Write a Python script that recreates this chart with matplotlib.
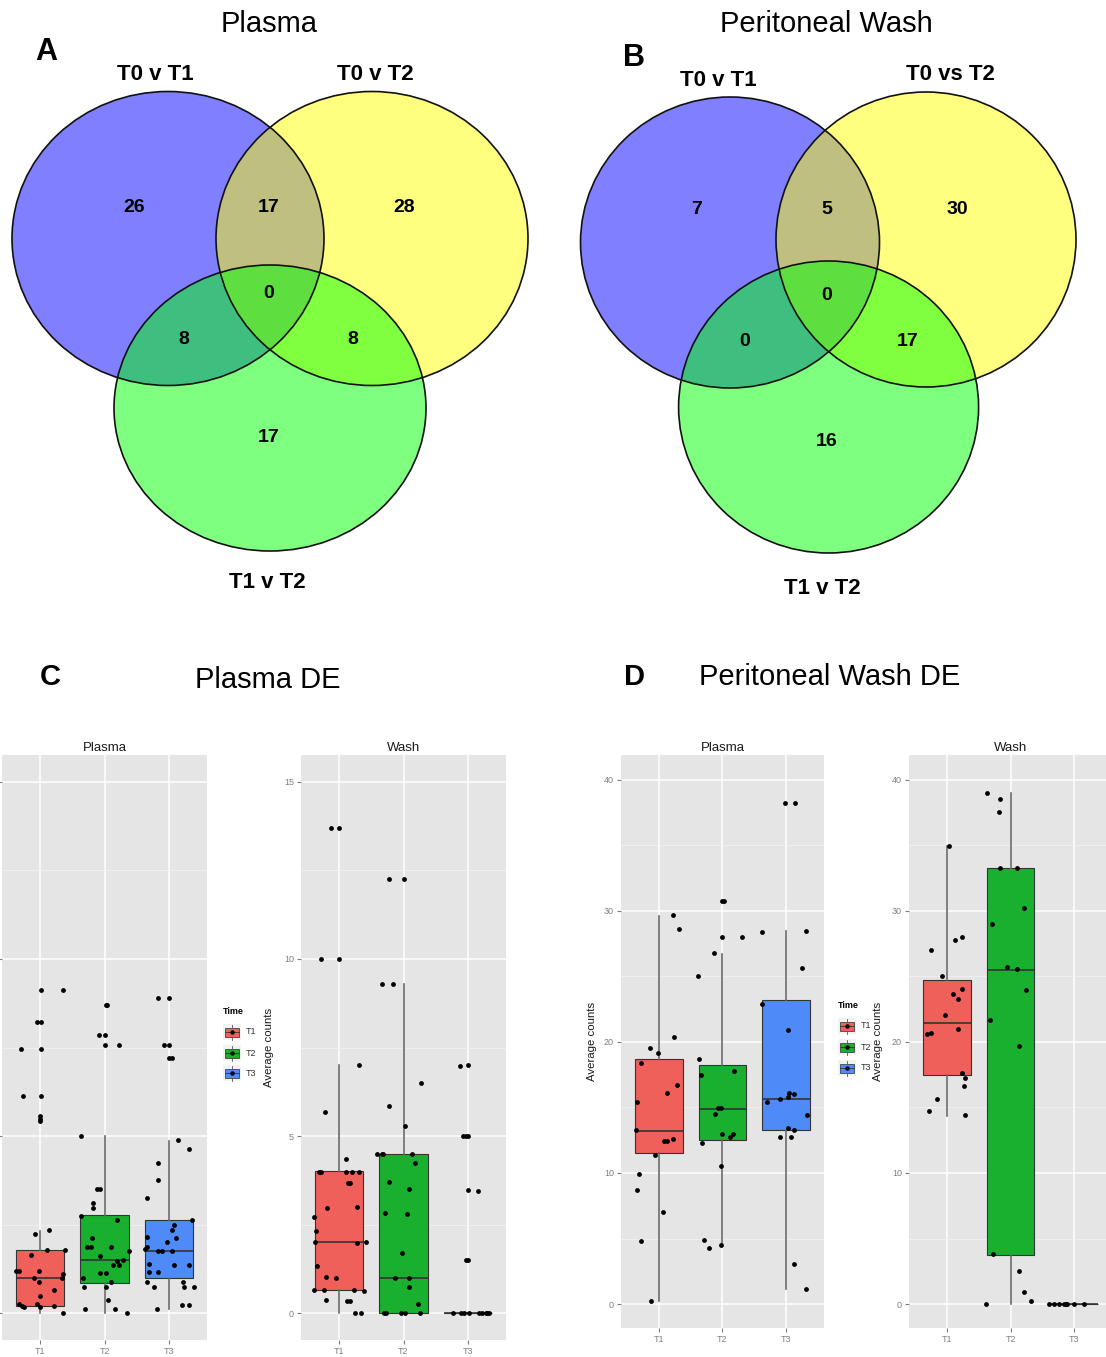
import matplotlib
matplotlib.use("Agg")
import matplotlib.pyplot as plt
from matplotlib.patches import Ellipse, Rectangle

plt.rcParams["font.family"] = ["Liberation Sans", "DejaVu Sans"]

W, H = 1106, 1357

# ---- Venn data ----
venn_a_sets = ["T0 v T1", "T0 v T2", "T1 v T2"]
venn_b_sets = ["T0 v T1", "T0 vs T2", "T1 v T2"]
# order: only1, 1&2, only2, all, 1&3, 2&3, only3
venn_a_counts = [26, 17, 28, 0, 8, 8, 17]
venn_b_counts = [7, 5, 30, 0, 0, 17, 16]

groups = ["T1", "T2", "T3"]
fills = ["#F0605B", "#19B02F", "#4E8BF8"]

# ---- C: Plasma DE, plasma facet ----
cp_y = [[9.11, 9.11, 8.23, 8.23, 7.45, 7.45, 6.12, 6.12, 5.56, 5.48, 5.42, 2.35, 2.22, 1.77, 1.65,
         1.77, 1.2, 1.2, 1.2, 0.98, 0.98, 1.11, 0.65, 0.87, 0.47, 0.25, 0.19, 0.16, 0.25, 0.16, 0.21, 0.0],
        [8.71, 8.71, 7.84, 7.84, 7.56, 7.56, 4.99, 3.51, 3.51, 3.12, 2.98, 2.74, 2.63, 2.13, 1.86, 1.86,
         1.86, 1.75, 1.6, 1.48, 1.51, 1.37, 1.37, 0.99, 1.12, 1.12, 0.87, 0.75, 0.75, 0.36, 0.11, 0.11, 0.0],
        [8.89, 8.89, 7.58, 7.58, 7.2, 7.2, 4.88, 4.63, 4.24, 3.76, 3.25, 2.63, 2.5, 2.35, 2.14, 2.13, 2.0,
         1.88, 1.82, 1.75, 1.75, 1.75, 1.39, 1.37, 1.37, 1.15, 1.15, 0.89, 0.75, 0.89, 0.75, 0.75, 0.11,
         0.22, 0.22]]
cp_dx = [[0.01, 0.36, -0.06, 0.01, -0.30, 0.01, -0.27, 0.01, -0.01, -0.01, 0.0, 0.13, -0.09, 0.10, -0.14,
          0.39, -0.38, -0.34, -0.02, -0.10, 0.33, 0.36, 0.21, -0.03, -0.01, -0.34, -0.29, -0.26, -0.05,
          -0.01, 0.21, 0.35],
         [0.02, 0.04, -0.09, 0.01, 0.0, 0.23, -0.36, -0.12, -0.07, -0.18, -0.18, -0.36, 0.19, -0.19, -0.28,
          -0.21, 0.10, 0.38, -0.07, 0.19, 0.29, 0.13, 0.22, -0.33, -0.07, 0.02, 0.10, -0.32, 0.02, 0.06,
          -0.31, 0.17, 0.35],
         [-0.16, 0.01, -0.07, 0.0, 0.01, 0.06, 0.14, 0.32, -0.16, -0.16, -0.34, 0.36, 0.09, 0.05, -0.33,
          0.11, -0.03, -0.34, -0.37, -0.17, -0.11, 0.05, -0.31, 0.09, 0.32, -0.30, -0.17, -0.33, -0.22,
          0.22, 0.24, 0.39, -0.18, 0.21, 0.32]]
cp_q1 = [0.21, 0.85, 1.0]
cp_med = [0.99, 1.51, 1.75]
cp_q3 = [1.77, 2.76, 2.62]
cp_lo = [0.0, 0.0, 0.11]
cp_hi = [2.33, 5.0, 4.86]

# ---- C: Plasma DE, wash facet ----
cw_y = [[13.69, 13.69, 10.0, 10.0, 7.0, 5.67, 4.35, 3.98, 3.98, 3.98, 3.98, 3.98, 3.67, 3.67, 2.97, 2.99,
         2.7, 2.33, 2.01, 1.99, 2.01, 1.34, 1.01, 0.98, 0.64, 0.64, 0.65, 0.63, 0.36, 0.34, 0.34, 0.0, 0.0],
        [12.26, 12.26, 9.28, 9.28, 6.49, 5.84, 5.28, 4.5, 4.5, 4.5, 4.49, 4.24, 3.71, 3.51, 2.83, 2.8, 1.71,
         0.98, 0.98, 0.73, 0.25, 0.0, 0.0, 0.0, 0.0, 0.0],
        [6.98, 7.0, 5.0, 5.0, 5.0, 3.49, 3.45, 1.49, 1.51, 0.0, 0.0, 0.0, 0.0, 0.0, 0.0, 0.0, 0.0, 0.0]]
cw_dx = [[-0.13, 0.0, -0.29, 0.0, 0.31, -0.23, 0.11, -0.32, -0.29, 0.11, 0.20, 0.31, 0.13, 0.16, -0.19,
          0.28, -0.39, -0.37, -0.38, 0.28, 0.41, -0.35, -0.21, -0.06, -0.39, -0.24, 0.22, 0.39, -0.21,
          0.12, 0.16, 0.24, 0.33],
         [-0.23, 0.0, -0.34, -0.16, 0.27, -0.22, 0.03, -0.41, -0.34, -0.32, 0.14, 0.18, -0.22, 0.09, -0.29,
          0.05, -0.03, -0.13, 0.09, 0.08, 0.23, -0.30, -0.28, -0.04, 0.03, 0.26],
         [-0.12, 0.0, -0.07, -0.03, 0.0, 0.0, 0.17, -0.02, 0.0, -0.23, -0.10, -0.06, 0.03, 0.18, 0.23, 0.29,
          0.31, 0.34]]
cw_q1 = [0.64, 0.0, 0.0]
cw_med = [2.01, 0.98, 0.0]
cw_q3 = [4.0, 4.5, 0.0]
cw_lo = [0.0, 0.0, 0.0]
cw_hi = [7.0, 9.28, 0.0]

# ---- D: Peritoneal Wash DE, plasma facet ----
dp_y = [[29.68, 28.64, 20.37, 19.54, 19.15, 18.38, 16.7, 16.09, 15.42, 13.25, 12.46, 12.46, 12.58, 11.36,
         9.92, 8.7, 7.02, 4.79, 0.21],
        [30.75, 30.75, 28.0, 28.0, 26.78, 25.0, 18.72, 17.5, 17.77, 14.5, 14.96, 14.96, 12.98, 12.98, 12.76,
         12.27, 10.53, 4.89, 4.24, 4.49],
        [38.26, 38.26, 28.4, 28.49, 25.65, 22.9, 20.89, 15.42, 15.66, 15.79, 16.09, 16.03, 14.41, 13.4,
         13.28, 12.76, 12.76, 3.05, 1.13]]
dp_dx = [[0.22, 0.31, 0.24, -0.14, -0.01, -0.28, 0.29, 0.12, -0.34, -0.37, 0.07, 0.13, 0.22, -0.07, -0.32,
          -0.35, 0.06, -0.29, -0.13],
         [0.0, 0.02, -0.01, 0.30, -0.14, -0.38, -0.37, -0.34, 0.18, -0.12, -0.07, -0.03, 0.0, 0.17, 0.12,
          -0.33, -0.03, -0.29, -0.22, -0.03],
         [-0.02, 0.14, -0.37, 0.32, 0.26, -0.38, 0.04, -0.30, -0.10, 0.04, 0.05, 0.13, 0.33, 0.04, 0.13,
          -0.10, 0.08, 0.13, 0.31]]
dp_q1 = [11.51, 12.52, 13.28]
dp_med = [13.2, 14.85, 15.65]
dp_q3 = [18.69, 18.26, 23.18]
dp_lo = [0.21, 4.52, 1.13]
dp_hi = [29.62, 26.7, 28.43]

# ---- D: Peritoneal Wash DE, wash facet ----
dw_y = [[34.96, 27.79, 28.03, 27.02, 25.04, 23.66, 24.03, 23.3, 22.05, 20.98, 20.6, 20.67, 17.62, 17.25,
         16.67, 15.66, 14.72, 14.41],
        [38.99, 38.56, 37.56, 33.28, 33.28, 30.23, 29.04, 25.71, 25.56, 23.97, 21.71, 19.69, 3.82, 2.5, 0.95,
         0.24, 0.0],
        [0.0, 0.0, 0.0, 0.0, 0.0, 0.0, 0.0, 0.0]]
dw_dx = [[0.03, 0.13, 0.24, -0.26, -0.08, 0.09, 0.23, 0.17, -0.03, 0.18, -0.31, -0.25, 0.23, 0.29, 0.27,
          -0.16, -0.29, 0.28],
         [-0.37, -0.17, -0.18, -0.16, 0.10, 0.21, -0.29, -0.05, 0.11, 0.24, -0.32, 0.13, -0.27, 0.14, 0.21,
          0.33, -0.38],
         [-0.39, -0.32, -0.24, -0.16, -0.13, -0.11, 0.0, 0.16]]
dw_q1 = [17.47, 3.76, 0.0]
dw_med = [21.44, 25.5, 0.0]
dw_q3 = [24.73, 33.28, 0.0]
dw_lo = [14.35, 0.0, 0.0]
dw_hi = [34.96, 38.99, 0.0]


def px(x0, y0, x1, y1):
    return [x0 / W, 1 - y1 / H, (x1 - x0) / W, (y1 - y0) / H]


fig = plt.figure(figsize=(W / 100, H / 100), dpi=100)

top = fig.add_axes([0, 0, 1, 1])
top.set_xlim(0, W)
top.set_ylim(H, 0)
top.axis("off")

venn_fill = ["blue", "yellow", "lime"]


def venn(ellipses, sets, set_pos, counts, count_pos):
    for (cx, cy, w, h), c in zip(ellipses, venn_fill):
        top.add_patch(Ellipse((cx, cy), w, h, facecolor=c, alpha=0.5, edgecolor="none"))
    for (cx, cy, w, h) in ellipses:
        top.add_patch(Ellipse((cx, cy), w, h, fill=False, edgecolor="#111111", lw=1.2))
    for s, (x, y) in zip(sets, set_pos):
        top.text(x, y, s, fontsize=16, fontweight="bold", ha="center", va="center")
    for n, (x, y) in zip(counts, count_pos):
        top.text(x, y, str(n), fontsize=14, fontweight="bold", ha="center", va="center")


venn([(168, 238.5, 312, 294), (372, 238.5, 312, 294), (270, 408, 312, 286)],
     venn_a_sets, [(155, 75), (375, 75), (267, 582)],
     venn_a_counts, [(134, 208), (269, 208), (404, 208), (269, 294), (184, 339), (353, 339), (269, 438)])
venn([(730, 242.5, 299, 291), (926, 239.5, 300, 295), (828.6, 407, 300, 292)],
     venn_b_sets, [(718, 80), (950, 74), (822, 588)],
     venn_b_counts, [(697, 210), (827, 210), (957, 210), (827, 296), (745, 341), (908, 341), (827, 441)])

top.text(269, 24, "Plasma", fontsize=21, ha="center", va="center")
top.text(826, 24, "Peritoneal Wash", fontsize=21, ha="center", va="center")
top.text(46, 52, "A", fontsize=22, fontweight="bold", ha="center", va="center")
top.text(634, 58, "B", fontsize=22, fontweight="bold", ha="center", va="center")
top.text(50, 677, "C", fontsize=21, fontweight="bold", ha="center", va="center")
top.text(268, 680, "Plasma DE", fontsize=21, ha="center", va="center")
top.text(634, 677, "D", fontsize=21, fontweight="bold", ha="center", va="center")
top.text(830, 677, "Peritoneal Wash DE", fontsize=21, ha="center", va="center")


def legend(x, y_title, y_keys):
    top.text(x, y_title, "Time", fontsize=6.5, fontweight="bold", ha="left", va="center")
    for g, c, yk in zip(groups, fills, y_keys):
        top.add_patch(Rectangle((x, yk - 8), 18, 16, facecolor="#F2F2F2", edgecolor="none"))
        top.add_patch(Rectangle((x + 2, yk - 4.5), 14, 9, facecolor=c, edgecolor="#444444", lw=0.6))
        top.plot([x + 9, x + 9], [yk - 7.5, yk - 4.5], color="#555555", lw=0.6)
        top.plot([x + 9, x + 9], [yk + 4.5, yk + 7.5], color="#555555", lw=0.6)
        top.plot([x + 2, x + 16], [yk, yk], color="#333333", lw=0.6)
        top.plot(x + 9, yk, "o", color="black", ms=2.2)
        top.text(x + 23, yk, g, fontsize=6.5, color="#333333", ha="left", va="center")


legend(223, 1012, [1032, 1053, 1073])
legend(838, 1006, [1026, 1047, 1068])


def panel(rect, title, ys, dxs, q1, med, q3, lo, hi, ylim, yticks, minor, ylab_x=None, ylabels=True):
    ax = fig.add_axes(rect)
    ax.set_facecolor("#E5E5E5")
    stats = [dict(q1=q1[i], med=med[i], q3=q3[i], whislo=lo[i], whishi=hi[i], fliers=[]) for i in range(3)]
    bp = ax.bxp(stats, positions=[1, 2, 3], widths=0.75, patch_artist=True, showcaps=False,
                showfliers=False, manage_ticks=False,
                boxprops=dict(edgecolor="#333333", lw=0.8),
                medianprops=dict(color="#333333", lw=1.2),
                whiskerprops=dict(color="#6A6A6A", lw=1.2))
    for patch, c in zip(bp["boxes"], fills):
        patch.set_facecolor(c)
    for i in range(3):
        ax.scatter([i + 1 + d for d in dxs[i]], ys[i], s=12, color="black", zorder=3, lw=0)
    ax.set_xlim(0.4, 3.6)
    ax.set_ylim(*ylim)
    ax.set_xticks([1, 2, 3])
    ax.set_xticklabels(groups)
    ax.set_yticks(yticks)
    ax.set_yticklabels([str(t) for t in yticks] if ylabels else [])
    ax.set_yticks(minor, minor=True)
    ax.grid(True, which="major", color="white", lw=1.1)
    ax.grid(True, which="minor", axis="y", color="#F2F2F2", lw=0.6)
    ax.set_axisbelow(True)
    for s in ax.spines.values():
        s.set_visible(False)
    ax.tick_params(which="major", length=3, color="#7F7F7F", labelcolor="#7F7F7F", labelsize=6.5, pad=2)
    ax.tick_params(which="minor", length=0)
    ax.set_title(title, fontsize=9.5, pad=3, color="#1A1A1A")
    if ylab_x is not None:
        ax.set_ylabel("Average counts", fontsize=8.2, color="#1A1A1A")
        ax.yaxis.set_label_coords(ylab_x, 0.5)
    return ax


c_ylim = (-0.76, 15.76)
d_ylim = (-1.83, 41.9)
panel(px(2, 755, 207, 1340), "Plasma", cp_y, cp_dx, cp_q1, cp_med, cp_q3, cp_lo, cp_hi,
      c_ylim, [0, 5, 10, 15], [2.5, 7.5, 12.5], ylabels=False)
panel(px(301, 755, 506, 1340), "Wash", cw_y, cw_dx, cw_q1, cw_med, cw_q3, cw_lo, cw_hi,
      c_ylim, [0, 5, 10, 15], [2.5, 7.5, 12.5], ylab_x=-0.13)
panel(px(621, 755, 824, 1328), "Plasma", dp_y, dp_dx, dp_q1, dp_med, dp_q3, dp_lo, dp_hi,
      d_ylim, [0, 10, 20, 30, 40], [5, 15, 25, 35], ylab_x=-0.12)
panel(px(909, 755, 1112, 1328), "Wash", dw_y, dw_dx, dw_q1, dw_med, dw_q3, dw_lo, dw_hi,
      d_ylim, [0, 10, 20, 30, 40], [5, 15, 25, 35], ylab_x=-0.13)

fig.savefig("out.png", dpi=100)
